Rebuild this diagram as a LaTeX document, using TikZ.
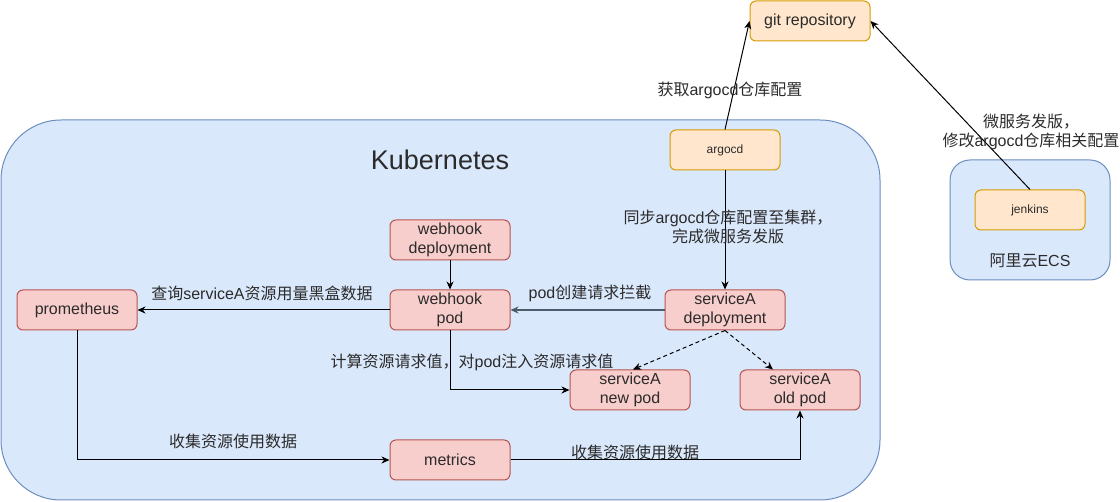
\documentclass[tikz,border=0pt]{standalone}
\usepackage{fontspec}
\setmainfont{Liberation Sans}
\newfontfamily\cjk{Noto Sans CJK SC}
\usetikzlibrary{arrows.meta,calc}
\definecolor{kfill}{HTML}{DAE8FC}
\definecolor{kdraw}{HTML}{6C8EBF}
\definecolor{ofill}{HTML}{FFE6CC}
\definecolor{odraw}{HTML}{D79B00}
\definecolor{rfill}{HTML}{F8CECC}
\definecolor{rdraw}{HTML}{B85450}
\definecolor{txt}{HTML}{2B2B2B}
\definecolor{slate}{HTML}{4D5B6B}
\newcommand{\zh}[1]{{\cjk #1}}
\begin{document}
\begin{tikzpicture}[x=1pt,y=-1pt,
  font=\fontsize{16}{19.2}\selectfont,
  container/.style={draw=kdraw, fill=kfill, line width=1pt, inner sep=0pt},
  redbox/.style={draw=rdraw, fill=rfill, rounded corners=6pt, minimum width=120pt,
    minimum height=40pt, inner sep=0pt, align=center, line width=1pt, text=txt},
  orgbox/.style={draw=odraw, fill=ofill, rounded corners=6pt, minimum width=110pt,
    minimum height=40pt, inner sep=0pt, align=center, line width=1pt, text=txt},
  arr/.style={-{Stealth[length=8pt,width=7pt,inset=2.5pt]}, line width=1pt, draw=black},
  lbl/.style={align=center, inner sep=0pt, text=txt}]
\useasboundingbox (0,0) rectangle (1120,502);

% containers
\node[container, rounded corners=60pt, minimum width=879pt, minimum height=380pt] (k8s) at (440.5,310) {};
\node[lbl, font=\fontsize{27}{32}\selectfont] (k8stitle) at (440,160) {Kubernetes};
\node[container, rounded corners=20pt, minimum width=160pt, minimum height=120pt] (ecs) at (1030,220) {};
\node[lbl] (ecstitle) at (1030,261) {\zh{阿里云}ECS};

% orange boxes
\node[orgbox, minimum width=120pt] (git) at (810,21) {git repository};
\node[orgbox, font=\fontsize{12}{14}\selectfont] (argocd) at (725,150) {argocd};
\node[orgbox, font=\fontsize{12}{14}\selectfont] (jenkins) at (1030,210) {jenkins};

% red boxes
\node[redbox] (whdep) at (450,240) {webhook\\deployment};
\node[redbox] (whpod) at (450,310) {webhook\\pod};
\node[redbox] (prom) at (77,310) {prometheus};
\node[redbox] (sadep) at (725,310) {serviceA\\deployment};
\node[redbox] (newpod) at (630,390) {serviceA\\new pod};
\node[redbox] (oldpod) at (800,390) {serviceA\\old pod};
\node[redbox] (metrics) at (450,460) {metrics};

% edges
\draw[arr] (argocd.north) -- (git.west);
\draw[arr] (jenkins.north) -- (git.east);
\draw[arr] (argocd.south) -- (sadep.north);
\draw[arr] (whdep.south) -- (whpod.north);
\draw[arr, draw=slate, line width=1.5pt] (sadep.west) -- (whpod.east);
\draw[arr] (whpod.west) -- (prom.east);
\draw[arr] (whpod.south) |- (newpod.west);
\draw[arr, dashed, dash pattern=on 4pt off 3pt] (sadep.south) -- ([xshift=3pt]newpod.north);
\draw[arr, dashed, dash pattern=on 4pt off 3pt] (sadep.south) -- ([xshift=-27pt]oldpod.north);
\draw[arr] (prom.south) |- (metrics.west);
\draw[arr] (metrics.east) -| (oldpod.south);

% labels
\node[lbl] (l1) at (730,90) {\zh{获取}argocd\zh{仓库配置}};
\node[lbl] (l2) at (1031,132) {\zh{微服务发版，}\\\zh{修改}argocd\zh{仓库相关配置}};
\node[lbl] (l3) at (728,227) {\zh{同步}argocd\zh{仓库配置至集群，}\\\zh{完成微服务发版}};
\node[lbl] (l4) at (590,293) {pod\zh{创建请求拦截}};
\node[lbl] (l5) at (262,293) {\zh{查询}serviceA\zh{资源用量黑盒数据}};
\node[lbl] (l6) at (472,362) {\zh{计算资源请求值，对}pod\zh{注入资源请求值}};
\node[lbl] (l7) at (233,441) {\zh{收集资源使用数据}};
\node[lbl] (l8) at (635,452) {\zh{收集资源使用数据}};
\end{tikzpicture}
\end{document}
